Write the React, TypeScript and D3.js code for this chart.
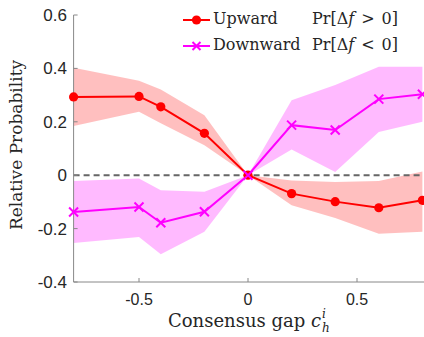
import React from "react";
import * as d3 from "d3";

const xs = [-0.8, -0.5, -0.4, -0.2, 0, 0.2, 0.4, 0.6, 0.8];
const upMean = [0.293, 0.295, 0.256, 0.157, 0, -0.069, -0.099, -0.122, -0.094];
const upHigh = [0.402, 0.354, 0.321, 0.225, 0, -0.02, -0.025, -0.022, 0.014];
const upLow = [0.184, 0.238, 0.195, 0.112, 0, -0.113, -0.16, -0.219, -0.212];
const dnMean = [-0.138, -0.119, -0.178, -0.137, 0, 0.1875, 0.169, 0.285, 0.303];
const dnHigh = [-0.022, -0.012, -0.056, -0.062, 0, 0.281, 0.338, 0.406, 0.406];
const dnLow = [-0.254, -0.231, -0.296, -0.212, 0, 0.096, 0.012, 0.162, 0.2];
const xTicks = [-0.5, 0, 0.5];
const yTicks = [-0.4, -0.2, 0, 0.2, 0.4, 0.6];
const legendLabels = ["Upward", "Downward"];

const W = 424, H = 337;
const x = d3.scaleLinear().domain([-0.8, 0.8]).range([73.6, 422.4]);
const y = d3.scaleLinear().domain([-0.4, 0.6]).range([282, 15]);

const fmt = (v: number) => (v === 0 ? "0" : d3.format(".1f")(v).replace("\u2212", "-"));

export default function App() {
  const idx = xs.map((_, i) => i);
  const area = (hi: number[], lo: number[]) =>
    d3.area<number>().x((i) => x(xs[i])).y0((i) => y(lo[i])).y1((i) => y(hi[i]))(idx) || "";
  const line = (v: number[]) => d3.line<number>().x((i) => x(xs[i])).y((i) => y(v[i]))(idx) || "";
  const red = "#ff0000";
  const mag = "#ff00ff";
  const cross = (cx: number, cy: number, s: number, key: any) => (
    <path key={key} d={`M${cx - s},${cy - s}L${cx + s},${cy + s}M${cx - s},${cy + s}L${cx + s},${cy - s}`} stroke={mag} strokeWidth={2} fill="none" />
  );
  const sans = "Liberation Sans";
  const serif = "DejaVu Serif";
  const ink = "#262626";
  const pr = (op: string, yy: number) => (
    <text x={312} y={yy} fontFamily={serif} fontSize={16} fill={ink}>
      Pr[Δ<tspan fontStyle="italic">f</tspan>
      <tspan dx={7}>{op}</tspan>
      <tspan dx={7}>0]</tspan>
    </text>
  );
  return (
    <svg width={W} height={H} style={{ position: "absolute", left: 0, top: 0, background: "#fff" }}>
      <rect width={W} height={H} fill="#fff" />
      <path d={area(upHigh, upLow)} fill="#ff0000" fillOpacity={0.25} stroke="none" />
      <path d={area(dnHigh, dnLow)} fill="#ff00ff" fillOpacity={0.27} stroke="none" />
      <line x1={x(-0.8)} x2={x(0.8)} y1={y(0)} y2={y(0)} stroke="#666" strokeWidth={2} strokeDasharray="6,4" />
      <line x1={x(-0.8)} x2={x(-0.8)} y1={y(0.6)} y2={y(-0.4)} stroke="#888" strokeWidth={1} />
      <line x1={x(-0.8)} x2={W} y1={y(-0.4)} y2={y(-0.4)} stroke="#888" strokeWidth={1} />
      {yTicks.map((t) => (
        <g key={"y" + t}>
          <line x1={x(-0.8)} x2={x(-0.8) + 4} y1={y(t)} y2={y(t)} stroke="#888" />
          <text x={67} y={y(t) + 6} textAnchor="end" fontFamily={sans} fontSize={17} fill={ink}>{fmt(t)}</text>
        </g>
      ))}
      {xTicks.map((t) => (
        <g key={"x" + t}>
          <line x1={x(t)} x2={x(t)} y1={y(-0.4)} y2={y(-0.4) - 4} stroke="#888" />
          <text x={x(t)} y={305} textAnchor="middle" fontFamily={sans} fontSize={16} fill={ink}>{fmt(t)}</text>
        </g>
      ))}
      <path d={line(upMean)} stroke={red} strokeWidth={2} fill="none" />
      <path d={line(dnMean)} stroke={mag} strokeWidth={2} fill="none" />
      {idx.map((i) => (
        <circle key={"c" + i} cx={x(xs[i])} cy={y(upMean[i])} r={4.6} fill={red} />
      ))}
      {idx.map((i) => cross(x(xs[i]), y(dnMean[i]), 4.5, "m" + i))}
      <text transform="translate(22,145) rotate(-90)" textAnchor="middle" fontFamily={serif} fontSize={17} fill={ink}>Relative Probability</text>
      <text x={168} y={327} fontFamily={serif} fontSize={18} fill={ink}>
        Consensus gap <tspan fontStyle="italic">c</tspan>
        <tspan fontSize={12} fontStyle="italic" dx={1} dy={-9}>i</tspan>
        <tspan fontSize={12} fontStyle="italic" dx={-4} dy={14}>h</tspan>
      </text>
      <line x1={183} x2={210} y1={20} y2={20} stroke={red} strokeWidth={2} />
      <circle cx={196.5} cy={20} r={4.6} fill={red} />
      <text x={213} y={24} fontFamily={serif} fontSize={16} fill={ink}>{legendLabels[0]}</text>
      {pr(">", 24)}
      <line x1={183} x2={210} y1={46} y2={46} stroke={mag} strokeWidth={2} />
      {cross(196.5, 46, 4, "lg")}
      <text x={213} y={50} fontFamily={serif} fontSize={16} fill={ink}>{legendLabels[1]}</text>
      {pr("<", 50)}
    </svg>
  );
}
